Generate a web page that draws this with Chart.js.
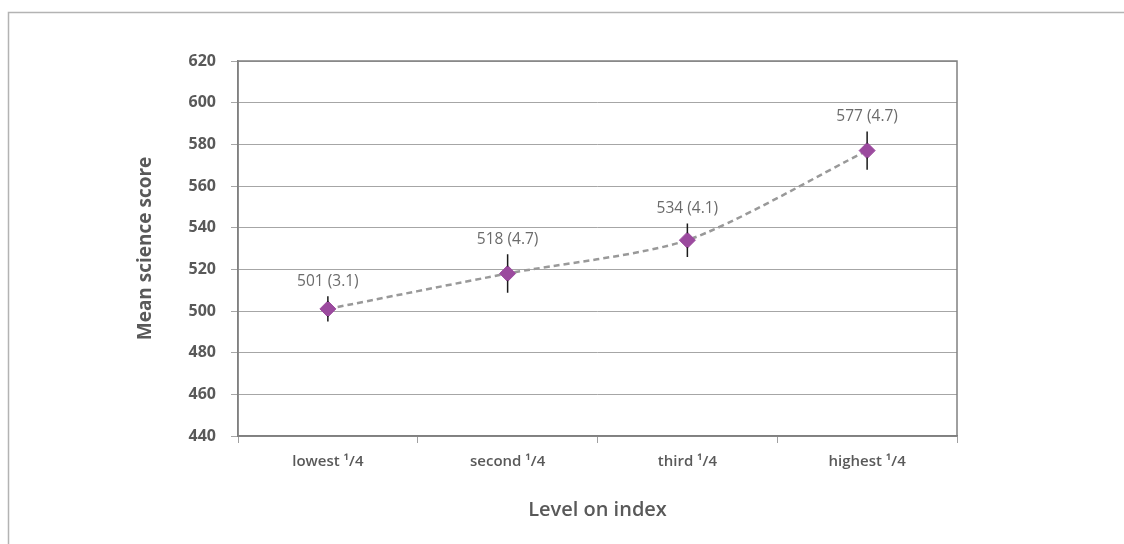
<!DOCTYPE html>
<html>
<head>
<meta charset="utf-8">
<script src="https://cdn.jsdelivr.net/npm/chart.js@4.4.0/dist/chart.umd.min.js"></script>
<style>
  html, body { margin: 0; padding: 0; background: #fff; }
  #wrap { width: 1124px; height: 544px; position: relative; }
</style>
</head>
<body>
<div id="wrap"><canvas id="chart"></canvas></div>
<script>
const categories = ["lowest ¹/4", "second ¹/4", "third ¹/4", "highest ¹/4"];
const meanScores = [501, 518, 534, 577];
const standardErrors = [3.1, 4.7, 4.1, 4.7];
const yTicks = [440, 460, 480, 500, 520, 540, 560, 580, 600, 620];

const textGrey = "#595959";
const sans = "'Open Sans', sans-serif";

// error bars (95% CI), value labels, plot frame, outer border
const extras = {
  id: "extras",
  beforeDraw(chart) {
    const ctx = chart.ctx;
    ctx.save();
    ctx.strokeStyle = "#b3b3b3";
    ctx.lineWidth = 1.5;
    ctx.strokeRect(8.5, 12.5, 1300, 700);
    ctx.restore();
  },
  afterDatasetsDraw(chart) {
    const ctx = chart.ctx;
    const y = chart.scales.y;
    const meta = chart.getDatasetMeta(0);
    ctx.save();
    ctx.strokeStyle = "#1a1a1a";
    ctx.lineWidth = 1.5;
    ctx.fillStyle = "#6b6b6b";
    ctx.font = "15.5px " + sans;
    ctx.textAlign = "center";
    ctx.textBaseline = "middle";
    meta.data.forEach((pt, i) => {
      const top = y.getPixelForValue(meanScores[i] + 1.96 * standardErrors[i]);
      const bot = y.getPixelForValue(meanScores[i] - 1.96 * standardErrors[i]);
      ctx.beginPath();
      ctx.moveTo(pt.x, top);
      ctx.lineTo(pt.x, pt.y - 7);
      ctx.moveTo(pt.x, pt.y + 7);
      ctx.lineTo(pt.x, bot);
      ctx.stroke();
      ctx.fillText(meanScores[i] + " (" + standardErrors[i].toFixed(1) + ")", pt.x, top - 15);
    });
    ctx.restore();
  },
  afterDraw(chart) {
    const a = chart.chartArea;
    const ctx = chart.ctx;
    ctx.save();
    ctx.strokeStyle = "#808080";
    ctx.lineWidth = 1.5;
    ctx.strokeRect(a.left, a.top, a.right - a.left, a.bottom - a.top);
    ctx.restore();
  }
};

new Chart(document.getElementById("chart"), {
  type: "line",
  data: {
    labels: categories,
    datasets: [{
      data: meanScores,
      borderColor: "#999999",
      borderWidth: 2.5,
      borderDash: [6, 4],
      tension: 0.25,
      pointStyle: "rectRot",
      pointRadius: 8,
      pointHoverRadius: 8,
      pointBackgroundColor: "#9b4a9e",
      pointBorderColor: "#9b4a9e",
      pointBorderWidth: 1,
      clip: false
    }]
  },
  options: {
    responsive: true,
    maintainAspectRatio: false,
    animation: false,
    layout: { padding: { left: 130, right: 167, top: 61, bottom: 0 } },
    plugins: { legend: { display: false }, tooltip: { enabled: false } },
    scales: {
      x: {
        offset: true,
        grid: { offset: true, drawOnChartArea: false, drawTicks: true, tickLength: 7, color: "#a0a0a0", lineWidth: 1 },
        border: { color: "#808080", width: 1.5 },
        ticks: { color: textGrey, padding: 10, font: { family: sans, size: 15, weight: "600" } },
        title: {
          display: true,
          text: "Level on index",
          color: textGrey,
          font: { family: sans, size: 20, weight: "600" },
          padding: { top: 0, bottom: 22 }
        },
        afterFit(scale) { scale.height = 108; }
      },
      y: {
        min: yTicks[0],
        max: yTicks[yTicks.length - 1],
        afterBuildTicks(scale) { scale.ticks = yTicks.map((v) => ({ value: v })); },
        grid: { color: "#a6a6a6", lineWidth: 1, tickLength: 7 },
        border: { color: "#808080", width: 1.5 },
        ticks: { color: textGrey, padding: 15, font: { family: sans, size: 16, weight: "bold" } },
        title: {
          display: true,
          text: "Mean science score",
          color: textGrey,
          font: { family: sans, size: 19, weight: "bold" },
          padding: { top: 4, bottom: 0 }
        },
        afterFit(scale) { scale.width = 108; }
      }
    }
  },
  plugins: [extras]
});
</script>
</body>
</html>
